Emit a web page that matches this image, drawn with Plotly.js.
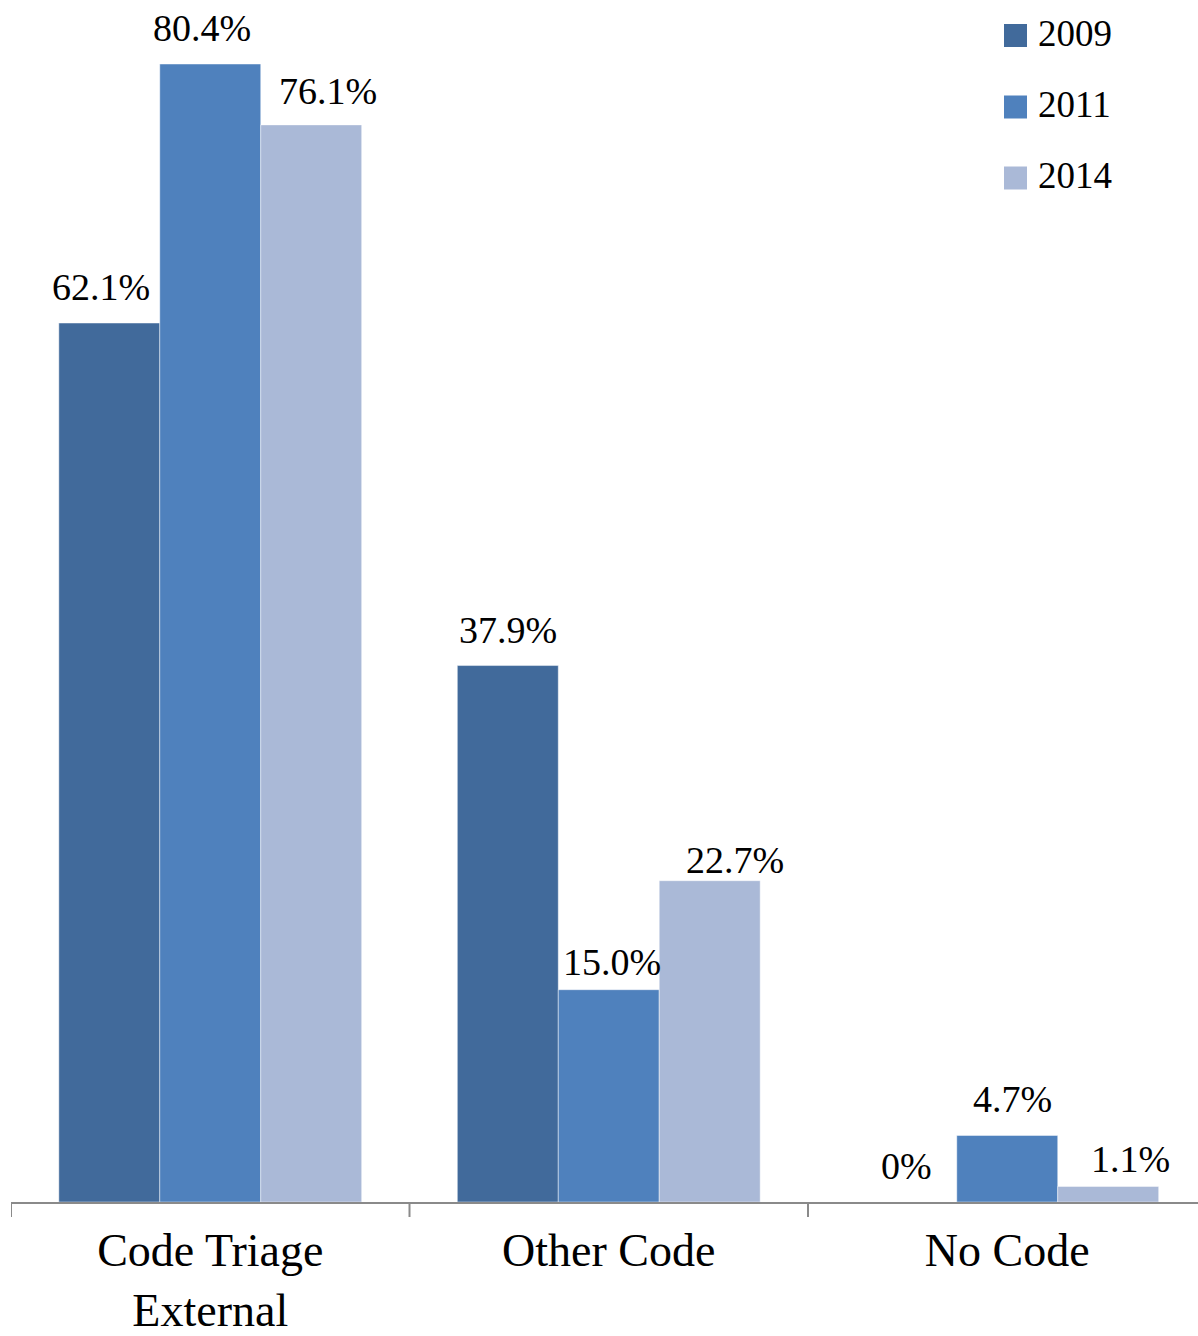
<!DOCTYPE html>
<html>
<head>
<meta charset="utf-8">
<script src="https://cdn.plot.ly/plotly-3.0.1.min.js"></script>
<style>html,body{margin:0;padding:0;background:#fff}#chart{width:1198px;height:1336px}</style>
</head>
<body>
<div id="chart"></div>
<script>
const categories = ['Code Triage<br>External', 'Other Code', 'No Code'];
const seriesNames = ['2009', '2011', '2014'];
const values2009 = [62.1, 37.9, 0];
const values2011 = [80.4, 15.0, 4.7];
const values2014 = [76.1, 22.7, 1.1];
const seriesValues = [values2009, values2011, values2014];
const colors = ['#416A9B', '#4F81BD', '#AAB9D7'];

const FONT = '"Liberation Serif", "Times New Roman", Times, serif';

// label nudges in pixels [series][category] (styling only)
const labelDx = [[-8, 0, 0], [-8, 3, 5], [17, 25, 22]];
const labelDy = [[0, 0, 0], [0, 8, 0], [2, 15, 9]];

const W = 1198, H = 1336;
const M = {l: 11, r: 0, t: 20, b: 134};
const plotW = W - M.l - M.r, plotH = H - M.t - M.b;
const catPx = 398.5;
const xMax = -0.5 + plotW / catPx;
const bargap = 0.24;
const barW = (1 - bargap) / seriesNames.length;

const fmt = v => v === 0 ? '0%' : v.toFixed(1) + '%';

const traces = seriesNames.map((name, i) => ({
  type: 'bar',
  name: name,
  x: categories.map((c, k) => k),
  y: seriesValues[i],
  marker: {color: colors[i], line: {color: 'rgba(255,255,255,0.45)', width: 1}},
  showlegend: false,
  hoverinfo: 'skip'
}));

const annotations = [];
seriesValues.forEach((vals, i) => {
  const off = (i - (seriesNames.length - 1) / 2) * barW;
  vals.forEach((v, k) => {
    annotations.push({
      x: k + off, y: v, xref: 'x', yref: 'y',
      text: fmt(v), showarrow: false,
      xanchor: 'center', yanchor: 'bottom',
      yshift: 13 - labelDy[i][k], xshift: labelDx[i][k],
      font: {family: FONT, size: 38, color: '#000'}
    });
  });
});

// manual legend (pixel positions converted to paper coords)
const px2x = px => (px - M.l) / plotW;
const py2y = py => (H - M.b - py) / plotH;
const legendRows = [35.5, 107, 178];
const shapes = [];
seriesNames.forEach((name, i) => {
  const cy = legendRows[i];
  shapes.push({
    type: 'rect', xref: 'paper', yref: 'paper',
    x0: px2x(1004), x1: px2x(1027), y0: py2y(cy + 11.5), y1: py2y(cy - 11.5),
    fillcolor: colors[i], line: {width: 0}
  });
  annotations.push({
    xref: 'paper', yref: 'paper', x: px2x(1036), y: py2y(cy - 2),
    xanchor: 'left', yanchor: 'middle', showarrow: false,
    text: name,
    font: {family: FONT, size: 37, color: '#000'}
  });
});

const layout = {
  width: W, height: H,
  margin: M,
  paper_bgcolor: '#fff', plot_bgcolor: '#fff',
  font: {family: FONT},
  barmode: 'group', bargap: bargap, bargroupgap: 0,
  showlegend: false,
  xaxis: {
    type: 'linear',
    range: [-0.5, xMax],
    tickmode: 'array',
    tickvals: categories.map((c, k) => k),
    ticktext: categories,
    showgrid: false, zeroline: false,
    showline: true, linecolor: '#8A8A8A', linewidth: 2,
    ticks: '', automargin: false, ticklabelstandoff: 7,
    tickfont: {family: FONT, size: 46, color: '#000'}
  },
  yaxis: {
    range: [0, plotH / 14.154],
    visible: false, showgrid: false, zeroline: false, fixedrange: true
  },
  shapes: shapes.concat([-0.5, 0.5, 1.5].map(b => ({
    type: 'line', xref: 'x', yref: 'paper', x0: b, x1: b, y0: 0, y1: -15 / plotH,
    line: {color: '#8A8A8A', width: 2}
  }))),
  annotations: annotations
};

Plotly.newPlot('chart', traces, layout, {displayModeBar: false, staticPlot: true});
</script>
</body>
</html>
